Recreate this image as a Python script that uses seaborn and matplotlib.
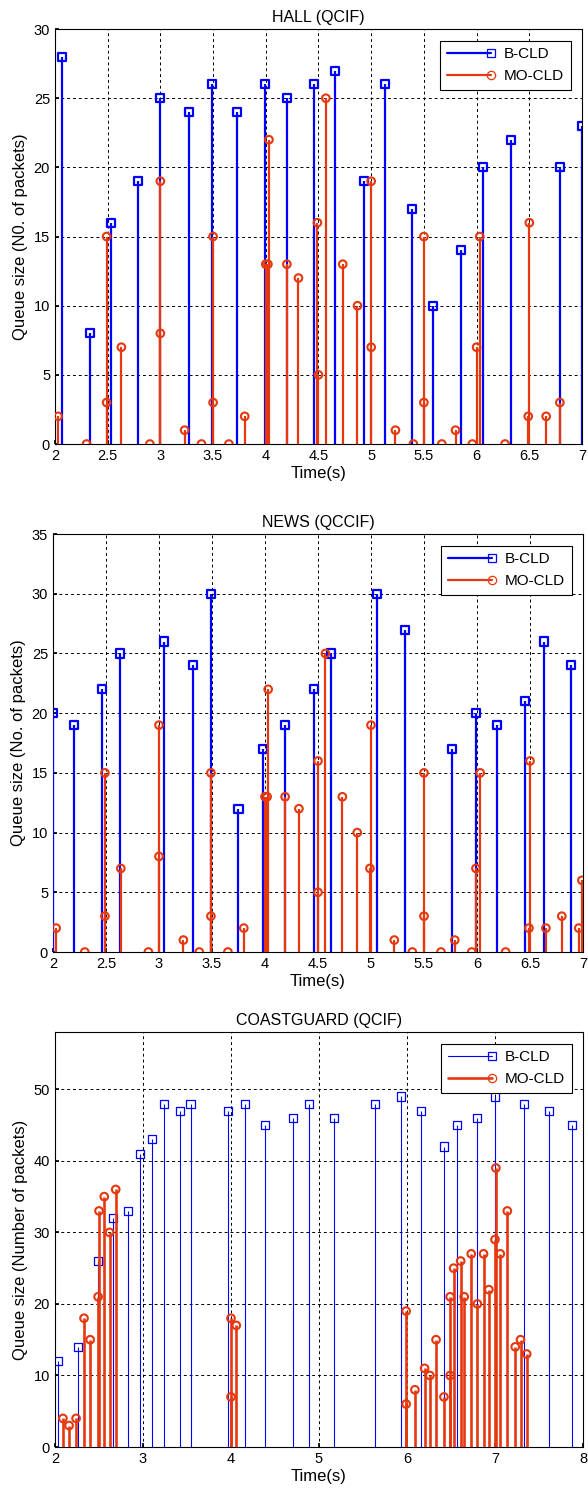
import matplotlib
matplotlib.use("Agg")
import matplotlib.pyplot as plt
import seaborn as sns
from matplotlib.lines import Line2D
from matplotlib.legend_handler import HandlerLine2D

# HALL (QCIF)
hall_b_t = [2.07, 2.33, 2.53, 2.79, 3.0, 3.27, 3.49, 3.73, 3.99, 4.2, 4.46,
            4.66, 4.93, 5.13, 5.39, 5.59, 5.85, 6.06, 6.33, 6.79, 7.0]
hall_b_q = [28, 8, 16, 19, 25, 24, 26, 24, 26, 25, 26,
            27, 19, 26, 17, 10, 14, 20, 22, 20, 23]
hall_m_t = [2.03, 2.3, 2.49, 2.49, 2.63, 2.9, 3.0, 3.0, 3.23, 3.39,
            3.5, 3.5, 3.65, 3.8, 4.0, 4.02, 4.03, 4.2, 4.31, 4.49,
            4.5, 4.57, 4.73, 4.87, 5.0, 5.0, 5.23, 5.4, 5.5, 5.5,
            5.67, 5.8, 5.96, 6.0, 6.03, 6.27, 6.49, 6.5, 6.66, 6.79]
hall_m_q = [2, 0, 3, 15, 7, 0, 8, 19, 1, 0,
            3, 15, 0, 2, 13, 13, 22, 13, 12, 16,
            5, 25, 13, 10, 7, 19, 1, 0, 3, 15,
            0, 1, 0, 7, 15, 0, 2, 16, 2, 3]

# NEWS (QCCIF)
news_b_t = [2.0, 2.2, 2.46, 2.63, 3.05, 3.32, 3.49, 3.75, 3.98, 4.19,
            4.46, 4.62, 5.06, 5.32, 5.76, 5.99, 6.19, 6.45, 6.63, 6.89]
news_b_q = [20, 19, 22, 25, 26, 24, 30, 12, 17, 19,
            22, 25, 30, 27, 17, 20, 19, 21, 26, 24]
news_m_t = [2.03, 2.3, 2.49, 2.49, 2.64, 2.9, 3.0, 3.0, 3.23, 3.38,
            3.49, 3.49, 3.65, 3.8, 4.0, 4.02, 4.03, 4.19, 4.32, 4.5,
            4.5, 4.57, 4.73, 4.87, 4.99, 5.0, 5.22, 5.39, 5.5, 5.5,
            5.66, 5.79, 5.95, 5.99, 6.03, 6.27, 6.49, 6.5, 6.65, 6.8,
            6.96, 6.99]
news_m_q = [2, 0, 3, 15, 7, 0, 8, 19, 1, 0,
            3, 15, 0, 2, 13, 13, 22, 13, 12, 16,
            5, 25, 13, 10, 7, 19, 1, 0, 3, 15,
            0, 1, 0, 7, 15, 0, 2, 16, 2, 3,
            2, 6]

# COASTGUARD (QCIF)
coast_b_t = [2.03, 2.26, 2.49, 2.66, 2.83, 2.97, 3.1, 3.24, 3.42, 3.54,
             3.97, 4.16, 4.39, 4.7, 4.89, 5.17, 5.64, 5.93, 6.16, 6.42,
             6.57, 6.8, 7.0, 7.33, 7.61, 7.87]
coast_b_q = [12, 14, 26, 32, 33, 41, 43, 48, 47, 48,
             47, 48, 45, 46, 48, 46, 48, 49, 47, 42,
             45, 46, 49, 48, 47, 45]
coast_m_t = [2.09, 2.16, 2.24, 2.33, 2.4, 2.49, 2.5, 2.56, 2.62, 2.69,
             4.0, 4.0, 4.06, 5.99, 5.99, 6.09, 6.2, 6.26, 6.33, 6.42,
             6.49, 6.49, 6.53, 6.61, 6.65, 6.73, 6.8, 6.87, 6.93, 7.0,
             7.01, 7.06, 7.14, 7.23, 7.29, 7.36]
coast_m_q = [4, 3, 4, 18, 15, 21, 33, 35, 30, 36,
             18, 7, 17, 19, 6, 8, 11, 10, 15, 7,
             10, 21, 25, 26, 21, 27, 20, 27, 22, 29,
             39, 27, 33, 14, 15, 13]

labels = ["B-CLD", "MO-CLD"]
BLUE = "#0000ff"
RED = "#e5380e"

sns.set_theme(style="whitegrid", rc={
    "axes.edgecolor": "black", "axes.linewidth": 0.8,
    "grid.color": "black", "grid.linestyle": (0, (3, 3)), "grid.linewidth": 0.7,
    "xtick.bottom": True, "ytick.left": True,
    "xtick.direction": "in", "ytick.direction": "in",
    "xtick.major.size": 3, "ytick.major.size": 3,
    "xtick.color": "black", "ytick.color": "black",
    "xtick.labelsize": 10.5, "ytick.labelsize": 10.5,
    "axes.labelsize": 12, "axes.titlesize": 11.5,
    "text.color": "black", "axes.labelcolor": "black",
})
plt.rcParams["font.family"] = ["Liberation Sans", "DejaVu Sans"]


class EndMarker(HandlerLine2D):
    # line across the handle, marker only at its right end
    def create_artists(self, *args, **kwargs):
        arts = super().create_artists(*args, **kwargs)
        for a in arts:
            n = len(a.get_xdata())
            a.set_markevery([n - 1])
        return arts


fig = plt.figure(figsize=(5.88, 14.91), dpi=100)


def stem_panel(ax, bt, bq, mt, mq, blw, bmew, rlw):
    ax.vlines(bt, 0, bq, color=BLUE, lw=blw, zorder=3)
    sns.scatterplot(x=bt, y=bq, ax=ax, marker="s", s=34, facecolor="none",
                    edgecolor=BLUE, color=BLUE, linewidth=bmew, zorder=4)
    ax.vlines(mt, 0, mq, color=RED, lw=rlw, zorder=5)
    sns.scatterplot(x=mt, y=mq, ax=ax, marker="o", s=30, facecolor="none",
                    edgecolor=RED, color=RED, linewidth=1.5, zorder=6)
    handles = [
        Line2D([0, 1], [0, 0], color=BLUE, lw=blw, marker="s", ms=6,
               mfc="none", mec=BLUE, mew=0.9),
        Line2D([0, 1], [0, 0], color=RED, lw=rlw, marker="o", ms=6,
               mfc="none", mec=RED, mew=0.9),
    ]
    leg = ax.legend(handles, labels, loc="upper right", numpoints=2,
                    handler_map={Line2D: EndMarker(marker_pad=0)},
                    fancybox=False, framealpha=1, edgecolor="black",
                    fontsize=11, handlelength=2.9, borderaxespad=0.75,
                    borderpad=0.45, labelspacing=0.5, handletextpad=0.8)
    leg.get_frame().set_linewidth(0.8)
    for s in ax.spines.values():
        s.set_visible(True)
        s.set_color("black")
    ax.set_xlabel("Time(s)", labelpad=2)


ticks_half = [2, 2.5, 3, 3.5, 4, 4.5, 5, 5.5, 6, 6.5, 7]
ticks_half_lbl = ["2", "2.5", "3", "3.5", "4", "4.5", "5", "5.5", "6", "6.5", "7"]

# panel 1
ax1 = fig.add_axes([0.0935, 0.7022, 0.8963, 0.2783])
stem_panel(ax1, hall_b_t, hall_b_q, hall_m_t, hall_m_q, 1.6, 1.6, 1.6)
ax1.set_xlim(2, 7)
ax1.set_ylim(0, 30)
ax1.set_xticks(ticks_half)
ax1.set_xticklabels(ticks_half_lbl)
ax1.set_yticks(range(0, 31, 5))
ax1.set_title("HALL (QCIF)", pad=5)
ax1.set_ylabel("Queue size (N0. of packets)")

# panel 2
ax2 = fig.add_axes([0.0901, 0.3615, 0.9014, 0.2803])
stem_panel(ax2, news_b_t, news_b_q, news_m_t, news_m_q, 1.6, 1.6, 1.6)
ax2.set_xlim(2, 7)
ax2.set_ylim(0, 35)
ax2.set_xticks(ticks_half)
ax2.set_xticklabels(ticks_half_lbl)
ax2.set_yticks(range(0, 36, 5))
ax2.set_title("NEWS (QCCIF)", pad=5)
ax2.set_ylabel("Queue size (No. of packets)")

# panel 3
ax3 = fig.add_axes([0.0935, 0.0295, 0.898, 0.2783])
stem_panel(ax3, coast_b_t, coast_b_q, coast_m_t, coast_m_q, 0.8, 0.9, 1.9)
ax3.set_xlim(2, 8)
ax3.set_ylim(0, 58)
ax3.set_xticks(range(2, 9))
ax3.set_yticks(range(0, 51, 10))
ax3.set_title("COASTGUARD (QCIF)", pad=5)
ax3.set_ylabel("Queue size (Number of packets)")

fig.savefig("out.png", dpi=100)
